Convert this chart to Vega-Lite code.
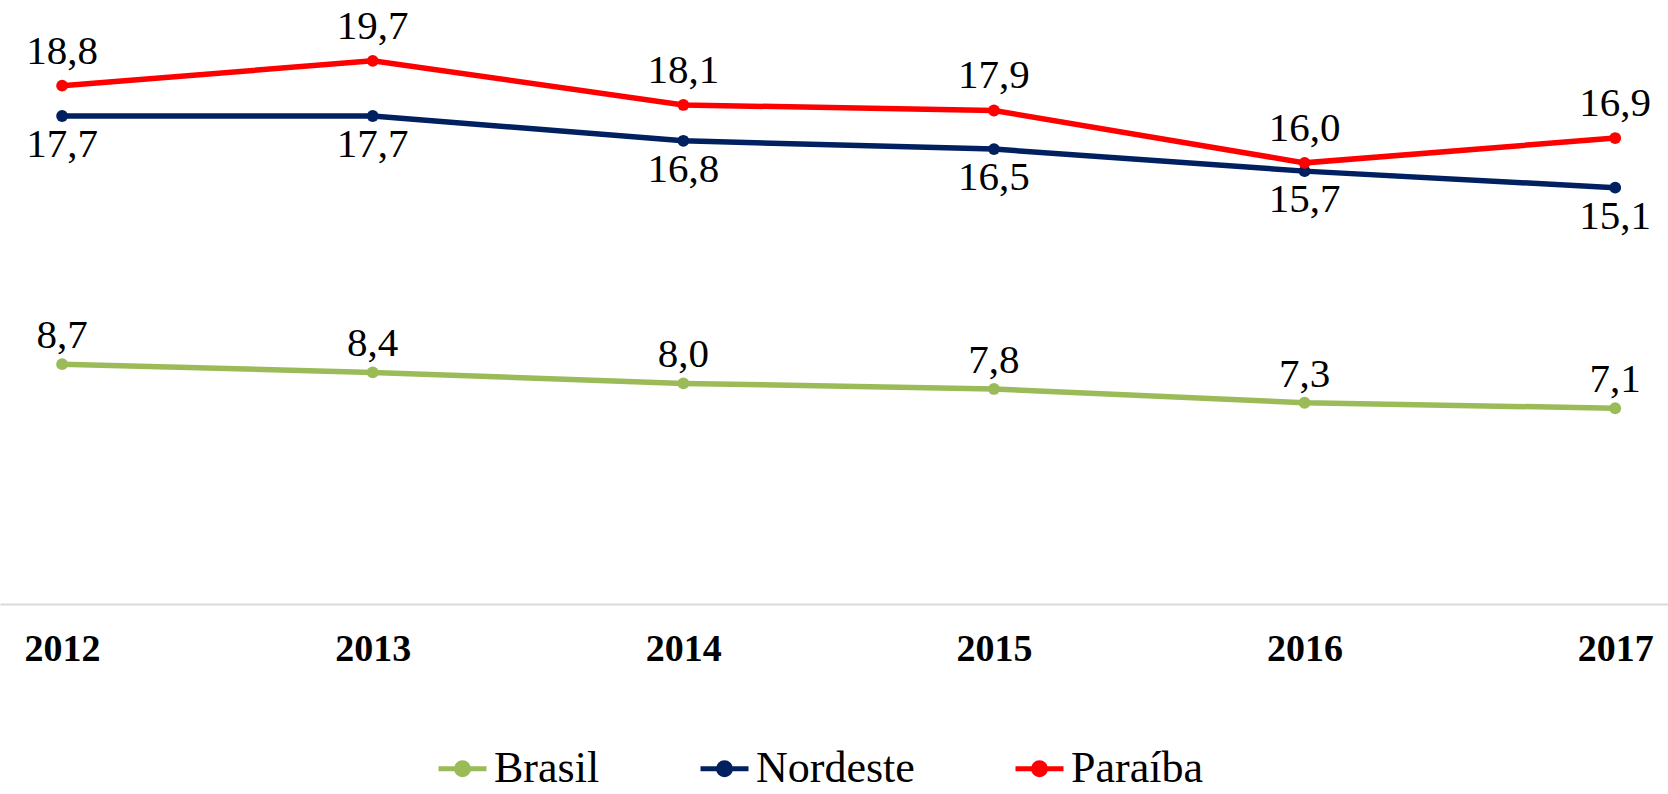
{
  "$schema": "https://vega.github.io/schema/vega-lite/v6.json",
  "width": 1668,
  "height": 579,
  "autosize": "none",
  "padding": {"left": 0, "top": 25, "right": 0, "bottom": 190},
  "background": "white",
  "config": {
    "view": {"stroke": null},
    "locale": {"number": {"decimal": ",", "thousands": ".", "grouping": [3], "currency": ["R$", ""]}},
    "font": "Liberation Serif"
  },
  "data": {
    "values": [
      {"year": 2012, "series": "Brasil", "value": 8.7},
      {"year": 2013, "series": "Brasil", "value": 8.4},
      {"year": 2014, "series": "Brasil", "value": 8.0},
      {"year": 2015, "series": "Brasil", "value": 7.8},
      {"year": 2016, "series": "Brasil", "value": 7.3},
      {"year": 2017, "series": "Brasil", "value": 7.1},
      {"year": 2012, "series": "Nordeste", "value": 17.7},
      {"year": 2013, "series": "Nordeste", "value": 17.7},
      {"year": 2014, "series": "Nordeste", "value": 16.8},
      {"year": 2015, "series": "Nordeste", "value": 16.5},
      {"year": 2016, "series": "Nordeste", "value": 15.7},
      {"year": 2017, "series": "Nordeste", "value": 15.1},
      {"year": 2012, "series": "Paraíba", "value": 18.8},
      {"year": 2013, "series": "Paraíba", "value": 19.7},
      {"year": 2014, "series": "Paraíba", "value": 18.1},
      {"year": 2015, "series": "Paraíba", "value": 17.9},
      {"year": 2016, "series": "Paraíba", "value": 16.0},
      {"year": 2017, "series": "Paraíba", "value": 16.9}
    ]
  },
  "encoding": {
    "x": {
      "field": "year",
      "type": "quantitative",
      "scale": {"domain": [2011.8, 2017.17], "nice": false, "zero": false},
      "axis": {
        "values": [2012, 2013, 2014, 2015, 2016, 2017],
        "format": "d",
        "title": null,
        "grid": false,
        "ticks": false,
        "tickSize": 0,
        "labelFlush": false,
        "labelFont": "Liberation Serif",
        "labelFontWeight": "bold",
        "labelFontSize": 38,
        "labelColor": "#000000",
        "labelPadding": 26,
        "domainColor": "#D9D9D9",
        "domainWidth": 2
      }
    },
    "y": {
      "field": "value",
      "type": "quantitative",
      "scale": {"domain": [0, 21], "nice": false},
      "axis": null
    }
  },
  "layer": [
    {
      "mark": {"type": "line", "strokeWidth": 5.5},
      "encoding": {
        "color": {
          "field": "series",
          "type": "nominal",
          "scale": {"domain": ["Brasil", "Nordeste", "Paraíba"], "range": ["#9BBB59", "#002060", "#FF0000"]},
          "legend": {
            "title": null,
            "orient": "none",
            "legendX": 436,
            "legendY": 717,
            "direction": "horizontal",
            "labelFont": "Liberation Serif",
            "labelFontSize": 44,
            "labelLimit": 500,
            "labelColor": "#000000",
            "labelOffset": 5,
            "columnPadding": 90,
            "symbolType": "M-1,0H1M-0.25,0A0.25,0.25 0 1,1 0.25,0A0.25,0.25 0 1,1 -0.25,0Z",
            "symbolSize": 2304,
            "symbolStrokeWidth": 5,
            "encode": {
              "symbols": {"update": {
                "fill": {"scale": "color", "field": "value"},
                "stroke": {"scale": "color", "field": "value"},
                "fillOpacity": {"value": 1},
                "strokeOpacity": {"value": 1},
                "strokeWidth": {"value": 5}
              }}
            }
          }
        }
      }
    },
    {
      "mark": {"type": "point", "filled": true, "size": 140, "opacity": 1},
      "encoding": {
        "color": {"field": "series", "type": "nominal", "legend": null}
      }
    },
    {
      "transform": [{"filter": "datum.series === 'Brasil'"}],
      "mark": {"type": "text", "dy": -28, "fontSize": 41, "font": "Liberation Serif", "color": "#000000", "baseline": "middle"},
      "encoding": {"text": {"field": "value", "type": "quantitative", "format": ".1f"}}
    },
    {
      "transform": [{"filter": "datum.series === 'Nordeste'"}],
      "mark": {"type": "text", "dy": 29, "fontSize": 41, "font": "Liberation Serif", "color": "#000000", "baseline": "middle"},
      "encoding": {"text": {"field": "value", "type": "quantitative", "format": ".1f"}}
    },
    {
      "transform": [{"filter": "datum.series === 'Paraíba'"}],
      "mark": {"type": "text", "dy": -34, "fontSize": 41, "font": "Liberation Serif", "color": "#000000", "baseline": "middle"},
      "encoding": {"text": {"field": "value", "type": "quantitative", "format": ".1f"}}
    }
  ]
}
